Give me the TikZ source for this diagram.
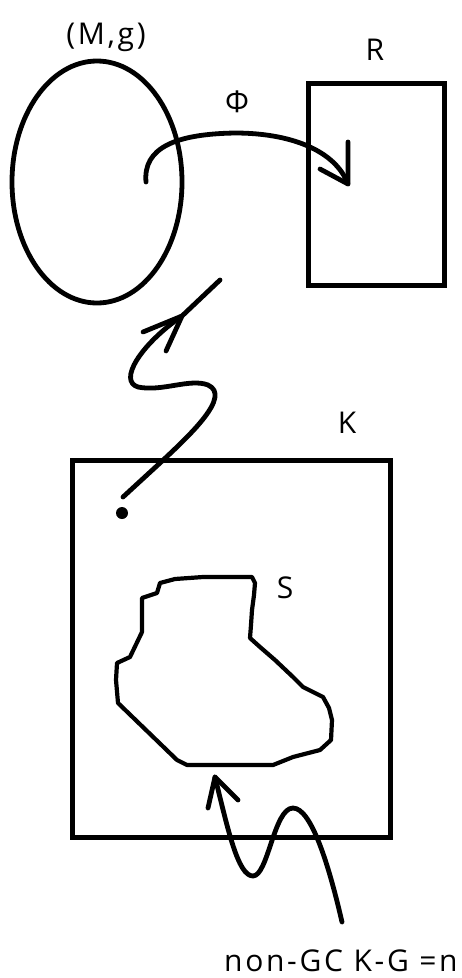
\documentclass[tikz,border=0pt]{standalone}
\usepackage{fontspec}
\setmainfont{Open Sans}[LetterSpace=9]
\usetikzlibrary{shapes.geometric}
\begin{document}
\begin{tikzpicture}[x=1pt,y=-1pt,
    ink/.style={line width=4.8pt,line cap=round,line join=round},
    frame/.style={draw,line width=5pt,line join=miter,inner sep=0pt},
    lbl/.style={font=\fontsize{30}{32}\selectfont,inner sep=0pt}]
  \useasboundingbox (0,0) rectangle (462,978);

  % the manifold, the target box and the outer set K
  \node[frame,ellipse,line width=4.8pt,minimum width=170pt,minimum height=242pt] (M) at (97,182) {};
  \node[frame,rectangle,minimum width=136pt,minimum height=202pt] (R) at (376,184) {};
  \node[frame,rectangle,minimum width=318pt,minimum height=377pt] (K) at (231,648.5) {};

  % labels
  \node[lbl] (Mlbl) at (106,37) {(M,g)};
  \node[lbl] (Rlbl) at (375,50) {R};
  \node[lbl] (Phil) at (237,102) {Φ};
  \node[lbl] (Klbl) at (347,423) {K};
  \node[lbl] (Slbl) at (285,588) {S};
  \node[lbl,anchor=base west] (cond) at (224,971) {non-GC K-G =n};

  % points the connectors run between
  \coordinate (phiS) at (146,182);
  \coordinate (phiT) at (348,184);
  \node[circle,fill,inner sep=0pt,minimum size=12pt] (pt) at (122,513) {};
  \coordinate (zS) at (123,497);
  \coordinate (zT) at (182,316);
  \coordinate (zE) at (220,280);
  \coordinate (wT) at (215,777);
  \coordinate (wS) at (342,922);

  % the map Phi
  \draw[ink] (phiS) .. controls (143,148) and (175,134) .. (235,133)
                    .. controls (290,133) and (335,150) .. (phiT);
  \draw[ink] (348,142) -- (phiT) -- (320,169);

  % wavy path from the point up to the manifold
  \draw[ink] (zS) -- (160,463) .. controls (190,435) and (232,396) .. (208,385)
             .. controls (190,378) and (162,392) .. (138,387)
             .. controls (118,381) and (140,345) .. (zT) -- (zE);
  \draw[ink] (143,332) -- (zT) -- (166,351);

  % wavy path from the condition up to S
  \draw[ink] (wS) .. controls (330,870) and (312,808) .. (293,808)
             .. controls (274,808) and (268,876) .. (253,876)
             .. controls (238,876) and (228,830) .. (wT);
  \draw[ink] (208,808) -- (wT) -- (238,800);

  % the region S
  \draw[line width=4.2pt,line join=round]
    (160,583) -- (175,579) -- (203,577) -- (252,577) -- (255,583) -- (254,595)
    -- (252,610) -- (251,625) -- (250,638) -- (260,647) -- (275,660) -- (293,677)
    -- (303,687) -- (323,697) -- (329,708) -- (332,720) -- (331,740) -- (320,750)
    -- (293,757) -- (273,765) -- (187,765) -- (177,760) -- (118,703) -- (116,680)
    -- (117,663) -- (130,657) -- (142,632) -- (142,598) -- (157,593) -- cycle;
\end{tikzpicture}
\end{document}
